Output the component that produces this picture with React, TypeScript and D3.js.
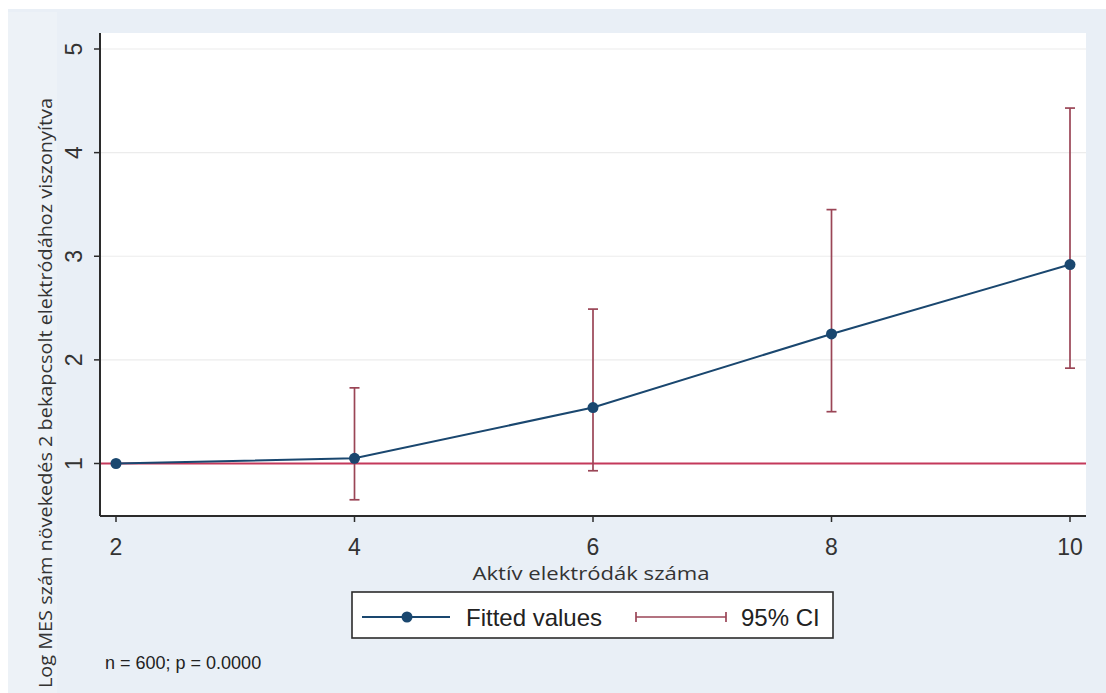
import React from "react";
import * as d3 from "d3";

const xValues = [2, 4, 6, 8, 10];
const fitted = [1.0, 1.05, 1.54, 2.25, 2.92];
const ciX = [4, 6, 8, 10];
const ciUpper = [1.73, 2.49, 3.45, 4.43];
const ciLower = [0.65, 0.93, 1.5, 1.92];
const xTicks = [2, 4, 6, 8, 10];
const yTicks = [1, 2, 3, 4, 5];
const gridTicks = [2, 3, 4, 5];
const refValue = 1;

const xTitle = "Aktív elektródák száma";
const yTitle = "Log MES szám növekedés 2 bekapcsolt elektródához viszonyítva";
const legendLabels = ["Fitted values", "95% CI"];
const note = "n = 600; p = 0.0000";

const W = 1106;
const H = 693;
const plotLeft = 100;
const plotRight = 1086;
const plotTop = 33;
const plotBottom = 516;

const navy = "#1a476f";
const maroon = "#9a4556";
const refRed = "#c4395b";
const axisCol = "#2b2b2b";
const sans = "'Liberation Sans', Arial, sans-serif";
const human = "'Open Sans', 'Noto Sans', sans-serif";

export default function App() {
  const x = d3.scaleLinear().domain([2, 10]).range([116, 1070]);
  const y = d3.scaleLinear().domain([1, 5]).range([463.5, 49]);
  const line = d3
    .line<number>()
    .x((_, i) => x(xValues[i]))
    .y((d) => y(d));

  const capW = 5;
  const legY = 617;

  return (
    <svg
      width={W}
      height={H}
      style={{ position: "absolute", left: 0, top: 0, background: "#fff" }}
    >
      <rect x={8} y={9} width={W - 8} height={H - 9} fill="#e9eff6" />
      <rect x={8} y={12} width={49} height={H - 12} fill="#edf2f7" />
      <rect x={plotLeft} y={plotTop} width={plotRight - plotLeft} height={plotBottom - plotTop} fill="#ffffff" />

      {gridTicks.map((t) => (
        <line key={"g" + t} x1={plotLeft} x2={plotRight} y1={y(t)} y2={y(t)} stroke="#ececec" strokeWidth={1.2} />
      ))}

      {/* reference line */}
      <line x1={plotLeft} x2={plotRight} y1={y(refValue)} y2={y(refValue)} stroke={refRed} strokeWidth={2} />

      {/* CI bars */}
      {ciX.map((cx, i) => (
        <g key={"ci" + cx} stroke={maroon} strokeWidth={1.7}>
          <line x1={x(cx)} x2={x(cx)} y1={y(ciUpper[i])} y2={y(ciLower[i])} />
          <line x1={x(cx) - capW} x2={x(cx) + capW} y1={y(ciUpper[i])} y2={y(ciUpper[i])} />
          <line x1={x(cx) - capW} x2={x(cx) + capW} y1={y(ciLower[i])} y2={y(ciLower[i])} />
        </g>
      ))}

      {/* fitted line */}
      <path d={line(fitted) || ""} fill="none" stroke={navy} strokeWidth={2} />
      {fitted.map((v, i) => (
        <circle key={"p" + i} cx={x(xValues[i])} cy={y(v)} r={5.5} fill={navy} />
      ))}

      {/* axes */}
      <line x1={plotLeft} x2={plotLeft} y1={plotTop} y2={plotBottom} stroke={axisCol} strokeWidth={2} />
      <line x1={plotLeft} x2={plotRight} y1={plotBottom} y2={plotBottom} stroke={axisCol} strokeWidth={2} />
      {yTicks.map((t) => (
        <g key={"yt" + t}>
          <line x1={plotLeft - 6} x2={plotLeft} y1={y(t)} y2={y(t)} stroke={axisCol} strokeWidth={1.5} />
          <text
            transform={`translate(82,${y(t)}) rotate(-90)`}
            textAnchor="middle"
            fontFamily={sans}
            fontSize={23}
            fill="#333"
          >
            {t}
          </text>
        </g>
      ))}
      {xTicks.map((t) => (
        <g key={"xt" + t}>
          <line x1={x(t)} x2={x(t)} y1={plotBottom} y2={plotBottom + 6} stroke={axisCol} strokeWidth={1.5} />
          <text x={x(t)} y={555} textAnchor="middle" fontFamily={sans} fontSize={23} fill="#333">
            {t}
          </text>
        </g>
      ))}

      {/* titles */}
      <text
        x={591}
        y={580}
        textAnchor="middle"
        fontFamily={human}
        fontSize={19}
        fill="#333"
        textLength={237}
        lengthAdjust="spacingAndGlyphs"
      >
        {xTitle}
      </text>
      <text
        transform={`translate(52,${(98 + 688) / 2}) rotate(-90)`}
        textAnchor="middle"
        fontFamily={human}
        fontSize={19}
        fill="#333"
        textLength={590}
        lengthAdjust="spacingAndGlyphs"
      >
        {yTitle}
      </text>

      {/* legend */}
      <rect x={352} y={592} width={481} height={46} fill="#fff" stroke={axisCol} strokeWidth={1.6} />
      <line x1={362} x2={450} y1={legY} y2={legY} stroke={navy} strokeWidth={2} />
      <circle cx={407} cy={legY} r={5.5} fill={navy} />
      <text x={466} y={626} fontFamily={sans} fontSize={24} fill="#222">
        {legendLabels[0]}
      </text>
      <g stroke={maroon} strokeWidth={1.7}>
        <line x1={636} x2={726} y1={legY} y2={legY} />
        <line x1={636} x2={636} y1={legY - 5} y2={legY + 5} />
        <line x1={726} x2={726} y1={legY - 5} y2={legY + 5} />
      </g>
      <text x={741} y={626} fontFamily={sans} fontSize={24} fill="#222">
        {legendLabels[1]}
      </text>

      <text x={105} y={669} fontFamily={sans} fontSize={18} fill="#222">
        {note}
      </text>
    </svg>
  );
}
